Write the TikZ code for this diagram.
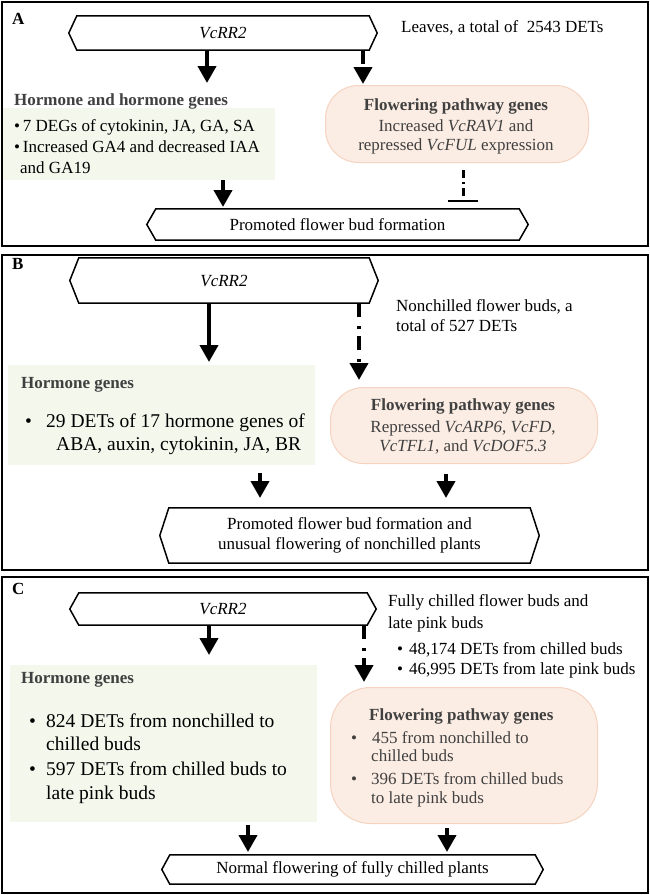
\documentclass[tikz,border=0pt]{standalone}
\usepackage{fontspec}
\setmainfont{Liberation Serif}
\usetikzlibrary{arrows.meta}
\definecolor{greenbg}{HTML}{F3F7EC}
\definecolor{pinkbg}{HTML}{FCEDE4}
\definecolor{pinkline}{HTML}{F5D3C0}
\definecolor{hdrgrey}{HTML}{404040}
\newcommand{\myhex}[2]{\draw[hexline] (#1.north west) -- (#1.north east) -- ([xshift=#2pt]#1.east) -- (#1.south east) -- (#1.south west) -- ([xshift=-#2pt]#1.west) -- cycle;}
\begin{document}
\begin{tikzpicture}[x=1pt,y=-1pt,
  panel/.style={draw=black, line width=2pt},
  hexline/.style={draw=black, line width=1.5pt},
  hexn/.style={draw=none, inner sep=0pt, align=center, font=\fontsize{17}{20}\selectfont},
  t/.style={inner sep=0pt, font=\fontsize{17}{20}\selectfont},
  tbig/.style={inner sep=0pt, font=\fontsize{19.5}{24}\selectfont},
  hdr/.style={inner sep=0pt, text=hdrgrey, font=\bfseries\fontsize{17}{20}\selectfont},
  grey/.style={inner sep=0pt, text=hdrgrey, font=\fontsize{17}{20}\selectfont},
  lbl/.style={inner sep=0pt, anchor=base west, font=\bfseries\fontsize{17}{20}\selectfont},
  arr/.style={line width=4pt, -{Triangle[width=18pt,length=17pt]}},
  darr/.style={arr, dash pattern=on 14pt off 9pt on 3pt off 7pt},
  inh/.style={line width=3pt, dash pattern=on 8pt off 4pt on 2pt off 4pt},
  greenbox/.style={fill=greenbg, draw=none, inner sep=0pt, anchor=north west},
  pinkbox/.style={fill=pinkbg, draw=pinkline, line width=1pt, inner sep=0pt, anchor=north west}
]
\useasboundingbox (0,0) rectangle (650,895);

% ---------------- Panel A ----------------
\draw[panel] (2,2) rectangle (648,246);
\node[lbl] (lA) at (12,24) {A};
\node[hexn, minimum width=292pt, minimum height=34pt] (hA) at (223,33) {\itshape VcRR2};
\myhex{hA}{8}
\node[t, anchor=base west] (leavesA) at (401,32) {Leaves, a total of~~2543 DETs};

\node[greenbox, minimum width=272pt, minimum height=72pt] (gA) at (3,108) {};
\node[hdr, anchor=base west] (hhA) at (14,105) {Hormone and hormone genes};
\node[t, anchor=base west] (bA1) at (14,131) {•\,7 DEGs of cytokinin, JA, GA, SA};
\node[t, anchor=base west] (bA2) at (14,152) {•\,Increased GA4 and decreased IAA};
\node[t, anchor=base west] (bA3) at (20,173) {and GA19};

\node[pinkbox, minimum width=263pt, minimum height=77pt, rounded corners=33pt] (pA) at (325,85) {};
\node[hdr, anchor=base] (pA1) at (456,110) {Flowering pathway genes};
\node[grey, anchor=base] (pA2) at (456,131) {Increased \textit{VcRAV1} and};
\node[grey, anchor=base] (pA3) at (456,150) {repressed \textit{VcFUL} expression};

\node[hexn, minimum width=363pt, minimum height=31pt] (hA2) at (337.5,224.5) {Promoted flower bud formation};
\myhex{hA2}{9}

\coordinate (tA1) at (207,83);
\coordinate (tA2) at (363,84);
\coordinate (tA3) at (223,207);
\coordinate (iA) at (463,201);
\draw[arr] (hA.south -| tA1) -- (tA1);
\draw[darr] (hA.south -| tA2) -- (tA2);
\draw[arr] (gA.south -| tA3) -- (tA3);
\draw[inh] ([yshift=-7pt]pA.south -| iA) -- (iA);
\draw[line width=2pt] ([xshift=-15pt]iA) -- ([xshift=15pt]iA);

% ---------------- Panel B ----------------
\draw[panel] (2,255) rectangle (648,570);
\node[lbl] (lB) at (12,269) {B};
\node[hexn, minimum width=290pt, minimum height=45pt] (hB) at (224,280.5) {\itshape VcRR2};
\myhex{hB}{9}
\node[t, anchor=base west] (nB1) at (396,311) {Nonchilled flower buds, a};
\node[t, anchor=base west] (nB2) at (396,331) {total of 527 DETs};

\node[greenbox, minimum width=307pt, minimum height=100pt] (gB) at (8,365) {};
\node[hdr, anchor=base west] (hhB) at (21,388) {Hormone genes};
\node[tbig, anchor=base west] (dB1) at (25,427) {•};
\node[tbig, anchor=base west] (bB1) at (46,427) {29 DETs of 17 hormone genes of};
\node[tbig, anchor=base west] (bB2) at (56,450) {ABA, auxin, cytokinin, JA, BR};

\node[pinkbox, minimum width=267pt, minimum height=76pt, rounded corners=33pt] (pB) at (330,387) {};
\node[hdr, anchor=base] (pB1) at (463,410) {Flowering pathway genes};
\node[grey, anchor=base] (pB2) at (463,432) {Repressed \textit{VcARP6}, \textit{VcFD},};
\node[grey, anchor=base] (pB3) at (463,451) {\textit{VcTFL1}, and \textit{VcDOF5.3}};

\node[hexn, minimum width=361pt, minimum height=55pt] (hB2) at (349.5,535.5) {Promoted flower bud formation and\\unusual flowering of nonchilled plants};
\myhex{hB2}{9}

\coordinate (tB1) at (209,362);
\coordinate (tB2) at (359,380);
\coordinate (tB3) at (260,498);
\coordinate (tB4) at (446,498);
\draw[arr] (hB.south -| tB1) -- (tB1);
\draw[darr] (hB.south -| tB2) -- (tB2);
\draw[arr] ([yshift=-8pt]gB.south -| tB3) -- (tB3);
\draw[arr] ([yshift=-10pt]pB.south -| tB4) -- (tB4);

% ---------------- Panel C ----------------
\draw[panel] (2,577) rectangle (648,893);
\node[lbl] (lC) at (12,594) {C};
\node[hexn, minimum width=288pt, minimum height=32pt] (hC) at (223,609) {\itshape VcRR2};
\myhex{hC}{9}
\node[t, anchor=base west] (fC1) at (388,606) {Fully chilled flower buds and};
\node[t, anchor=base west] (fC2) at (388,628) {late pink buds};
\node[t, anchor=base west] (dC1) at (397,654) {•};
\node[t, anchor=base west] (fC3) at (409,654) {48,174 DETs from chilled buds};
\node[t, anchor=base west] (dC2) at (397,674) {•};
\node[t, anchor=base west] (fC4) at (409,674) {46,995 DETs from late pink buds};

\node[greenbox, minimum width=307pt, minimum height=157pt] (gC) at (10,665) {};
\node[hdr, anchor=base west] (hhC) at (21,683) {Hormone genes};
\node[tbig, anchor=base west] (dC3) at (29,727) {•};
\node[tbig, anchor=base west] (bC1) at (46,727) {824 DETs from nonchilled to};
\node[tbig, anchor=base west] (bC2) at (46,750) {chilled buds};
\node[tbig, anchor=base west] (dC4) at (29,775) {•};
\node[tbig, anchor=base west] (bC3) at (46,775) {597 DETs from chilled buds to};
\node[tbig, anchor=base west] (bC4) at (46,799) {late pink buds};

\node[pinkbox, minimum width=267pt, minimum height=136pt, rounded corners=40pt] (pC) at (330,687) {};
\node[hdr, anchor=base west] (pC1) at (369,720) {Flowering pathway genes};
\node[grey, anchor=base west] (dC5) at (351,743) {•};
\node[grey, anchor=base west] (pC2) at (372,743) {455 from nonchilled to};
\node[grey, anchor=base west] (pC3) at (371,761) {chilled buds};
\node[grey, anchor=base west] (dC6) at (351,784) {•};
\node[grey, anchor=base west] (pC4) at (371,784) {396 DETs from chilled buds};
\node[grey, anchor=base west] (pC5) at (371,803) {to late pink buds};

\node[hexn, minimum width=365pt, minimum height=29pt] (hC2) at (352.5,869.5) {Normal flowering of fully chilled plants};
\myhex{hC2}{8}

\coordinate (tC1) at (209,655);
\coordinate (tC2) at (364,682);
\coordinate (tC3) at (248,852);
\coordinate (tC4) at (447,852);
\draw[arr] (hC.south -| tC1) -- (tC1);
\draw[darr] (hC.south -| tC2) -- (tC2);
\draw[arr] ([yshift=-3pt]gC.south -| tC3) -- (tC3);
\draw[arr] ([yshift=-4pt]pC.south -| tC4) -- (tC4);
\end{tikzpicture}
\end{document}
